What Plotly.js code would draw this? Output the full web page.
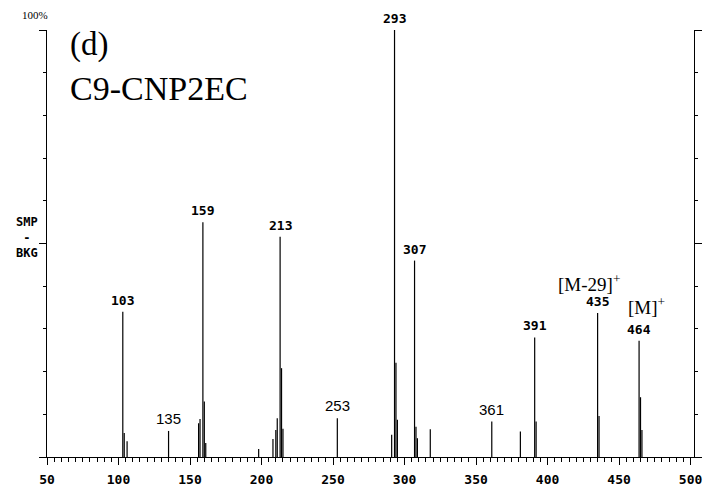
<!DOCTYPE html>
<html>
<head>
<meta charset="utf-8">
<script src="https://cdn.plot.ly/plotly-3.0.1.min.js"></script>
<style>html,body{margin:0;padding:0;background:#fff;}#chart{width:706px;height:491px;}</style>
</head>
<body>
<div id="chart"></div>
<script>
// Labelled peaks (m/z and relative intensity, %)
const labelMz   = [103, 135, 159, 213, 253, 293, 307, 361, 391, 435, 464];
const labelInt  = [34.0, 6.1, 55.0, 51.6, 9.1, 100, 46.0, 8.3, 28.0, 33.7, 27.2];
const labelBold = [true, false, true, true, false, true, true, false, true, true, true];
// Unlabelled minor peaks
const minorMz  = [104, 106, 156, 157, 160, 161, 198, 208, 210, 211, 214, 215, 291, 294, 295, 308, 309, 318, 381, 392, 436, 465, 466];
const minorInt = [5.6, 3.7, 7.9, 8.9, 13.0, 3.3, 1.9, 4.2, 6.3, 9.1, 20.8, 6.6, 5.2, 22.1, 8.7, 7.1, 4.4, 6.5, 6.0, 8.3, 9.6, 14.0, 6.3];
// Axis ticks
const xTicks = [50, 100, 150, 200, 250, 300, 350, 400, 450, 500];

// Build stick spectrum
const allMz = labelMz.concat(minorMz);
const allInt = labelInt.concat(minorInt);
const sx = [], sy = [];
allMz.forEach((m, i) => { sx.push(m, m, null); sy.push(0, allInt[i], null); });

const stick = {
  x: sx, y: sy, type: 'scatter', mode: 'lines',
  line: {color: '#000', width: 1.2}, hoverinfo: 'skip', showlegend: false
};

const mono = 'DejaVu Sans Mono, Liberation Mono, monospace';
const serif = 'Liberation Serif, Times New Roman, serif';

const annotations = labelMz.map((m, i) => ({
  x: m, y: labelInt[i], xref: 'x', yref: 'y',
  text: String(m), showarrow: false, yanchor: 'bottom', xanchor: 'center', yshift: 2,
  font: labelBold[i] ? {family: mono, size: 13, color: '#000', weight: 'bold'}
                     : {family: 'Liberation Sans, Arial, sans-serif', size: 15, color: '#000'}
}));

annotations.push(
  {xref: 'paper', yref: 'paper', x: -0.0185, y: 1.035, text: '100%', showarrow: false,
   xanchor: 'center', yanchor: 'middle', font: {family: serif, size: 11, color: '#000'}},
  {xref: 'paper', yref: 'paper', x: -0.031, y: 0.513, text: 'SMP<br>-<br>BKG', showarrow: false,
   xanchor: 'center', yanchor: 'middle', font: {family: mono, size: 12, color: '#000', weight: 'bold'}},
  {xref: 'paper', yref: 'paper', x: 0.0325, y: 0.965, text: '(d)', showarrow: false,
   xanchor: 'left', yanchor: 'middle', font: {family: serif, size: 33, color: '#000'}},
  {xref: 'paper', yref: 'paper', x: 0.0325, y: 0.864, text: 'C9-CNP2EC', showarrow: false,
   xanchor: 'left', yanchor: 'middle', font: {family: serif, size: 34, color: '#000'}},
  {xref: 'paper', yref: 'paper', x: 0.838, y: 0.4075, text: '[M-29]<sup>+</sup>', showarrow: false,
   xanchor: 'center', yanchor: 'middle', font: {family: serif, size: 19, color: '#000'}},
  {xref: 'paper', yref: 'paper', x: 0.926, y: 0.354, text: '[M]<sup>+</sup>', showarrow: false,
   xanchor: 'center', yanchor: 'middle', font: {family: serif, size: 19, color: '#000'}}
);

const layout = {
  width: 706, height: 491,
  margin: {l: 47, r: 12, t: 30, b: 34},
  paper_bgcolor: '#fff', plot_bgcolor: '#fff',
  showlegend: false,
  xaxis: {
    range: [50, 502.4], tickvals: xTicks, ticktext: xTicks.map(String),
    ticks: 'outside', ticklen: 7, tickwidth: 1, tickcolor: '#000',
    showline: true, linecolor: '#000', linewidth: 1,
    showgrid: false, zeroline: false, ticklabelstandoff: 3,
    tickfont: {family: mono, size: 13, color: '#000', weight: 'bold'},
    minor: {dtick: 5, tick0: 50, ticks: 'outside', ticklen: 4, tickcolor: '#000', showgrid: false}
  },
  yaxis: {
    range: [0, 100], dtick: 50, tick0: 0,
    ticks: 'outside', ticklen: 7, tickwidth: 1, tickcolor: '#000',
    showline: true, linecolor: '#000', linewidth: 1, mirror: 'ticks',
    showgrid: false, zeroline: false, showticklabels: false,
    minor: {dtick: 10, ticks: 'outside', ticklen: 3, tickcolor: '#000', showgrid: false}
  },
  annotations: annotations
};

Plotly.newPlot('chart', [stick], layout, {staticPlot: true, displayModeBar: false});
</script>
</body>
</html>
